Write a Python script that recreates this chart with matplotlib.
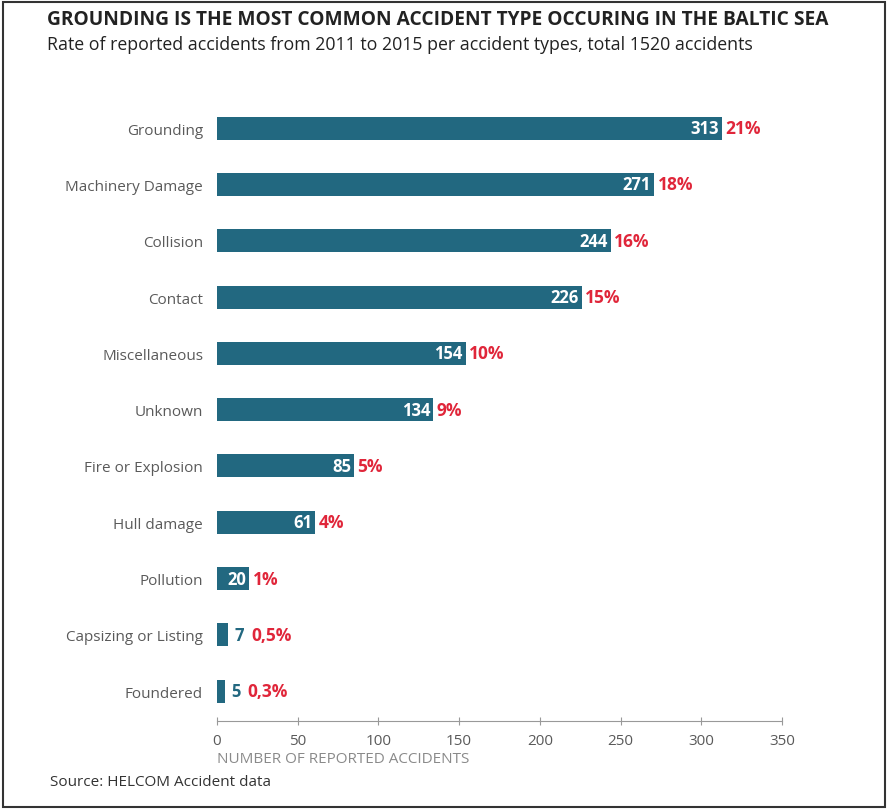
import matplotlib.pyplot as plt
from matplotlib.patches import Rectangle

categories = ['Grounding', 'Machinery Damage', 'Collision', 'Contact', 'Miscellaneous',
              'Unknown', 'Fire or Explosion', 'Hull damage', 'Pollution',
              'Capsizing or Listing', 'Foundered']
counts = [313, 271, 244, 226, 154, 134, 85, 61, 20, 7, 5]
shares = ['21%', '18%', '16%', '15%', '10%', '9%', '5%', '4%', '1%', '0,5%', '0,3%']
xticks = [0, 50, 100, 150, 200, 250, 300, 350]

bar_col = '#226880'
red = '#e0263a'
grey = '#5a5a5a'
plt.rcParams['font.family'] = ['Open Sans', 'DejaVu Sans']

fig = plt.figure(figsize=(8.89, 8.12), dpi=100)
ax = fig.add_axes([217/889, 1-722/812, 565/889, (722-101)/812])

ypos = list(range(len(categories)))
ax.barh(ypos, counts, height=0.41, color=bar_col)
ax.set_xlim(0, 350)
ax.set_ylim(10.53, -0.5)

for y, v, s in zip(ypos, counts, shares):
    if v >= 20:
        ax.text(v - 2, y, str(v), color='white', fontsize=12, fontweight='bold',
                ha='right', va='center')
        ax.text(v + 2, y, s, color=red, fontsize=12.5, fontweight='bold',
                ha='left', va='center')
    else:
        ax.text(v + 4, y, str(v), color=bar_col, fontsize=12, fontweight='bold',
                ha='left', va='center')
        ax.text(v + 14, y, s, color=red, fontsize=12.5, fontweight='bold',
                ha='left', va='center')

ax.set_yticks(ypos)
ax.set_yticklabels(categories, fontsize=11, color=grey)
ax.tick_params(axis='y', length=0, pad=10)
ax.set_xticks(xticks)
ax.set_xticklabels([str(t) for t in xticks], fontsize=11, color=grey)
ax.tick_params(axis='x', direction='inout', length=6, color='#999999', pad=6)
for side in ['top', 'right', 'left']:
    ax.spines[side].set_visible(False)
ax.spines['bottom'].set_color('#999999')
ax.set_xlabel('NUMBER OF REPORTED ACCIDENTS', fontsize=11, color='#8a8a8a',
              loc='left', labelpad=2)

fig.text(47/889, 1-20/812, 'GROUNDING IS THE MOST COMMON ACCIDENT TYPE OCCURING IN THE BALTIC SEA',
         fontsize=13.8, fontweight='bold', color='#222222', va='center', ha='left')
fig.text(47/889, 1-45/812, 'Rate of reported accidents from 2011 to 2015 per accident types, total 1520 accidents',
         fontsize=12.75, color='#222222', va='center', ha='left')
fig.text(50/889, 1-783/812, 'Source: HELCOM Accident data', fontsize=11,
         color='#333333', va='center', ha='left')

fig.patches.append(Rectangle((3/889, 4/812), 882/889, 805/812, transform=fig.transFigure,
                             fill=False, edgecolor='#333333', linewidth=1.5))

fig.savefig('out.png', dpi=100)
